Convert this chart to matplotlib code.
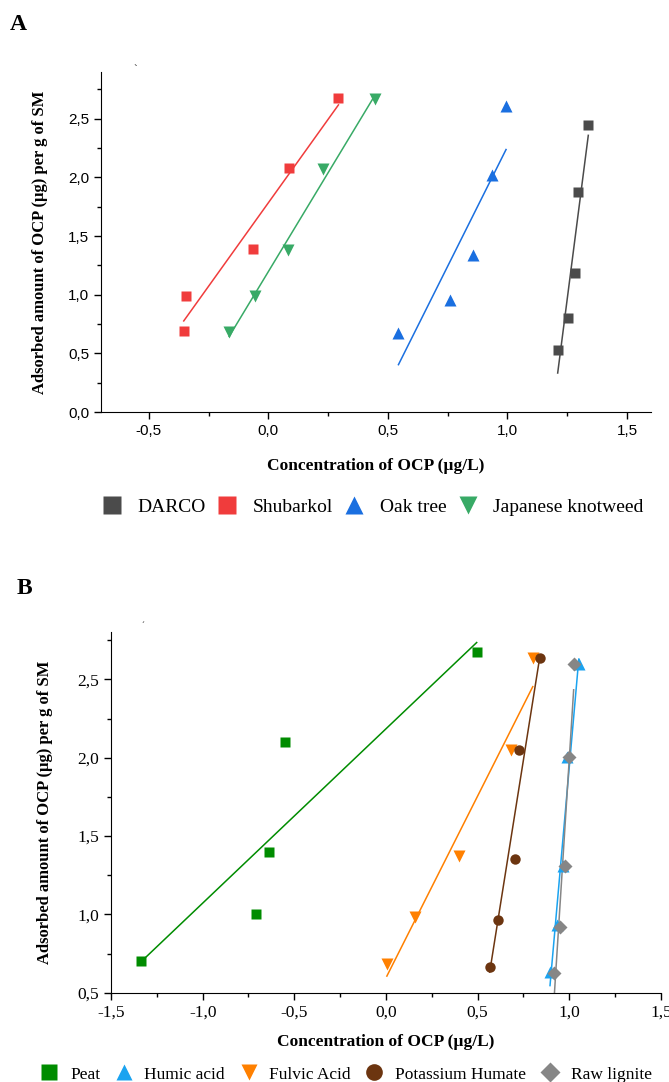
import numpy as np
import matplotlib
matplotlib.use('Agg')
import matplotlib.pyplot as plt
from matplotlib.ticker import MultipleLocator, FuncFormatter
from matplotlib.lines import Line2D

# ── Panel A data: log concentration (x) vs log adsorbed amount (y) ──
darco_x = [1.210, 1.255, 1.281, 1.293, 1.338]
darco_y = [0.527, 0.805, 1.188, 1.874, 2.443]
shub_x = [-0.354, -0.345, -0.066, 0.086, 0.293]
shub_y = [0.689, 0.992, 1.386, 2.080, 2.673]
oak_x = [0.544, 0.758, 0.854, 0.937, 0.994]
oak_y = [0.675, 0.952, 1.335, 2.018, 2.608]
knot_x = [-0.164, -0.054, 0.080, 0.230, 0.444]
knot_y = [0.685, 0.985, 1.380, 2.075, 2.668]

# ── Panel B data ──
peat_x = [-1.337, -0.710, -0.637, -0.553, 0.495]
peat_y = [0.701, 1.000, 1.399, 2.097, 2.673]
humic_x = [0.895, 0.932, 0.967, 0.987, 1.052]
humic_y = [0.631, 0.930, 1.310, 2.007, 2.601]
fulvic_x = [0.005, 0.158, 0.399, 0.683, 0.801]
fulvic_y = [0.684, 0.983, 1.371, 2.046, 2.637]
kh_x = [0.566, 0.609, 0.703, 0.728, 0.838]
kh_y = [0.667, 0.966, 1.354, 2.050, 2.639]
lign_x = [0.915, 0.950, 0.979, 0.997, 1.024]
lign_y = [0.624, 0.919, 1.309, 2.003, 2.601]

SERIF = ['Liberation Serif', 'DejaVu Serif']
NARROW = ['Liberation Sans Narrow', 'Liberation Sans', 'DejaVu Sans']

comma = FuncFormatter(lambda v, p: f'{v:.1f}'.replace('.', ','))

fig = plt.figure(figsize=(6.69, 10.82), dpi=100)


def fit_line(ax, x, y, color):
    k, b = np.polyfit(x, y, 1)
    xs = np.array([min(x), max(x)])
    ax.plot(xs, k * xs + b, color=color, lw=1.1, zorder=2)


def style(ax, tick_family, tick_size):
    for s in ['top', 'right']:
        ax.spines[s].set_visible(False)
    ax.xaxis.set_major_locator(MultipleLocator(0.5))
    ax.xaxis.set_minor_locator(MultipleLocator(0.25))
    ax.yaxis.set_major_locator(MultipleLocator(0.5))
    ax.yaxis.set_minor_locator(MultipleLocator(0.25))
    ax.xaxis.set_major_formatter(comma)
    ax.yaxis.set_major_formatter(comma)
    ax.tick_params(which='major', direction='out', length=5, width=1)
    ax.tick_params(which='minor', direction='out', length=3, width=1)
    for lab in ax.get_xticklabels() + ax.get_yticklabels():
        lab.set_family(tick_family)
        lab.set_fontsize(tick_size)
    ax.set_xlabel('Concentration of OCP (µg/L)', family=SERIF,
                  fontweight='bold', fontsize=12.5)
    ax.set_ylabel('Adsorbed amount of OCP (µg) per g of SM', family=SERIF,
                  fontweight='bold', fontsize=12)


# ── Panel A ──
axA = fig.add_axes([0.151, 0.6192, 0.822, 0.3145])
seriesA = [
    ('DARCO', darco_x, darco_y, '#4b4b4b', 's', 6.5),
    ('Shubarkol', shub_x, shub_y, '#f03c3c', 's', 6.5),
    ('Oak tree', oak_x, oak_y, '#1a6fe0', '^', 8),
    ('Japanese knotweed', knot_x, knot_y, '#38aa66', 'v', 8),
]
for name, x, y, c, m, ms in seriesA:
    fit_line(axA, x, y, c)
    axA.plot(x, y, ls='none', marker=m, ms=ms, color=c, mec='none', zorder=3)
axA.set_xlim(-0.7, 1.6)
axA.set_ylim(0, 2.9)
style(axA, NARROW, 11)
axA.xaxis.set_label_coords(0.5, -0.135)
axA.yaxis.set_label_coords(-0.096, 0.5)

handlesA = [Line2D([], [], ls='none', marker=m, ms=12.5, color=c, mec='none')
            for _, _, _, c, m, _ in seriesA]
fig.legend(handlesA, [s[0] for s in seriesA], loc='center',
           bbox_to_anchor=(0.556, 0.531), ncol=4, frameon=False,
           prop={'family': SERIF, 'size': 14}, handletextpad=0.7,
           columnspacing=0.5, handlelength=1.2)

# ── Panel B ──
axB = fig.add_axes([0.1659, 0.0825, 0.822, 0.3331])
seriesB = [
    ('Peat', peat_x, peat_y, '#008c00', 's', 6.5),
    ('Humic acid', humic_x, humic_y, '#1aa3f0', '^', 8),
    ('Fulvic Acid', fulvic_x, fulvic_y, '#ff8000', 'v', 8),
    ('Potassium Humate', kh_x, kh_y, '#6c3510', 'o', 7.5),
    ('Raw lignite', lign_x, lign_y, '#868686', 'D', 7),
]
for name, x, y, c, m, ms in seriesB:
    fit_line(axB, x, y, c)
    axB.plot(x, y, ls='none', marker=m, ms=ms, color=c, mec='none', zorder=3)
axB.set_xlim(-1.5, 1.5)
axB.set_ylim(0.5, 2.8)
style(axB, SERIF, 12.5)
axB.xaxis.set_label_coords(0.5, -0.115)
axB.yaxis.set_label_coords(-0.105, 0.5)

handlesB = [Line2D([], [], ls='none', marker=m, ms=12 if m != 'D' else 10,
                   color=c, mec='none')
            for _, _, _, c, m, _ in seriesB]
fig.legend(handlesB, [s[0] for s in seriesB], loc='center',
           bbox_to_anchor=(0.516, 0.007), ncol=5, frameon=False,
           prop={'family': SERIF, 'size': 12.5}, handletextpad=0.6,
           columnspacing=0.75, handlelength=1.2)

# panel letters and the small stray marks near the axis tops
fig.text(0.015, 0.972, 'A', family=SERIF, fontweight='bold', fontsize=17)
fig.text(0.025, 0.451, 'B', family=SERIF, fontweight='bold', fontsize=17)
fig.text(0.200, 0.941, 'ˏ', family=SERIF, fontsize=8)
fig.text(0.212, 0.420, 'ˊ', family=SERIF, fontsize=6)

fig.savefig('out.png', dpi=100)
